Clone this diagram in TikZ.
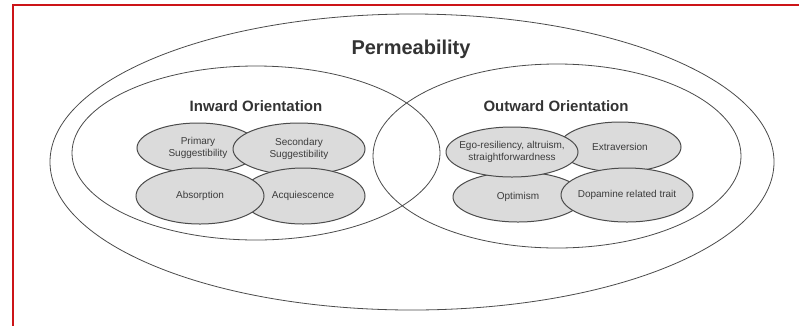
\documentclass[tikz,border=0pt]{standalone}
\usepackage{fontspec}
\setmainfont{Liberation Sans}
\usetikzlibrary{shapes.geometric}
\definecolor{framered}{RGB}{204,20,24}
\definecolor{linegray}{RGB}{75,75,75}
\definecolor{traitfill}{RGB}{219,219,219}
\definecolor{textgray}{RGB}{60,60,60}
\tikzset{
    set/.style={draw=linegray, line width=0.8pt, ellipse, inner sep=0pt},
    trait/.style={draw=linegray, line width=1pt, fill=traitfill, ellipse, inner sep=0pt},
    traittext/.style={text=textgray, align=center, font=\fontsize{10}{12}\selectfont},
    heading/.style={text=black!80, font=\bfseries\fontsize{#1}{#1}\selectfont}
}

\begin{document}
\begin{tikzpicture}[x=1pt, y=-1pt]
            \useasboundingbox (0, 0) rectangle (799, 325);
            \draw[framered, line width=1.8pt] (13, 330) -- (13, 5) -- (805, 5);

            \node[set, minimum width=724, minimum height=296] (perm) at (412, 162) {};
            \node[set, minimum width=368, minimum height=174] (inward) at (256, 153) {};
            \node[set, minimum width=368, minimum height=184] (outward) at (557, 156) {};

            \node[heading=20] (permtitle) at (411, 49) {Permeability};
            \node[heading=15] (inwardtitle) at (256, 106) {Inward Orientation};
            \node[heading=15] (outwardtitle) at (556, 106) {Outward Orientation};

            \node[trait, minimum width=122, minimum height=50, label={[traittext]center:Primary\\Suggestibility}] (prim) at (198, 148) {};
            \node[trait, minimum width=132, minimum height=52, label={[traittext]center:Secondary\\Suggestibility}] (sec) at (299, 149) {};
            \node[trait, minimum width=124, minimum height=56, label={[traittext]center:Acquiescence}] (acq) at (303, 196) {};
            \node[trait, minimum width=128, minimum height=56, label={[traittext]center:Absorption}] (abs) at (200, 196) {};

            \node[trait, minimum width=122, minimum height=50, label={[traittext]center:Extraversion}] (extra) at (620, 147) {};
            \node[trait, minimum width=130, minimum height=50, label={[traittext]center:Optimism}] (opt) at (518, 197) {};
            \node[trait, minimum width=132, minimum height=50, label={[traittext]center:Ego-resiliency, altruism,\\straightforwardness}] (ego) at (512, 152) {};
            \node[trait, minimum width=132, minimum height=54, label={[traittext]center:Dopamine related trait}] (dopa) at (627, 195) {};
        \end{tikzpicture}
\end{document}
